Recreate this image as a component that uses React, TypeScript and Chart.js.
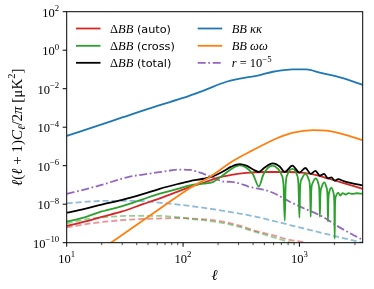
import React, { useEffect, useRef } from 'react';
import { Chart, registerables } from 'chart.js';

Chart.register(...registerables);

// ---------- data ----------
const ellAuto = [10, 14, 20, 30, 45, 63, 90, 115, 150, 200, 260, 350, 500, 800, 1100, 1400, 1800, 2400, 3500];
const bbAuto = [7.4e-10, 1.2e-9, 2.2e-9, 4.2e-9, 1e-8, 2e-8, 4.5e-8, 7.9e-8, 1.3e-7, 2.4e-7, 3.3e-7, 4.2e-7, 4.7e-7, 4.7e-7, 4.2e-7, 3.2e-7, 2.1e-7, 1.26e-7, 6.3e-8];

const ellCross = [10, 14, 20, 30, 45, 63, 90, 115, 150, 180, 220, 260, 307, 350, 400, 448, 490, 540, 590, 650, 700, 730, 748, 762, 790, 870, 950, 982, 1000, 1015, 1045, 1125, 1200, 1235, 1250, 1265, 1300, 1375, 1450, 1485, 1500, 1515, 1555, 1630, 1705, 1745, 1760, 1775, 1810, 1885, 1960, 1995, 2010, 2025, 2070, 2150, 2250, 2350, 2500, 2650, 2850, 3100, 3500];
const bbCross = [1.23e-9, 2.0e-9, 4.2e-9, 7.9e-9, 1.8e-8, 3.5e-8, 6.3e-8, 9.5e-8, 1.17e-7, 1.4e-7, 3.2e-7, 6.8e-7, 1.05e-6, 7.9e-7, 3.5e-7, 8.3e-8, 3.5e-7, 7.9e-7, 1.0e-6, 7.1e-7, 3.5e-7, 1e-7, 1.4e-9, 1e-7, 3.5e-7, 6.8e-7, 3.5e-7, 1e-7, 2e-9, 8e-8, 2e-7, 3.8e-7, 2e-7, 6.3e-8, 2.2e-9, 5e-8, 1.26e-7, 2.2e-7, 1.26e-7, 4e-8, 2.2e-9, 3.2e-8, 7.9e-8, 1.35e-7, 7.9e-8, 2.5e-8, 1.26e-9, 1.6e-8, 4.5e-8, 7e-8, 4e-8, 1.26e-8, 1.6e-10, 1e-8, 2.8e-8, 4e-8, 2.8e-8, 3.8e-8, 3.2e-8, 3.8e-8, 3.4e-8, 3.7e-8, 3.5e-8];

const ellTotal = [10, 14, 20, 30, 45, 63, 90, 115, 150, 180, 220, 260, 307, 350, 400, 448, 500, 590, 680, 748, 870, 1000, 1125, 1250, 1375, 1500, 1630, 1760, 1885, 2010, 2150, 2400, 2800, 3500];
const bbTotal = [3.6e-9, 5.6e-9, 9.5e-9, 1.66e-8, 3.3e-8, 6.3e-8, 1.12e-7, 1.6e-7, 2.1e-7, 2.8e-7, 5e-7, 8.9e-7, 1.2e-6, 1e-6, 6.3e-7, 4.7e-7, 7.9e-7, 1.32e-6, 8.9e-7, 4.7e-7, 1e-6, 4.4e-7, 7.6e-7, 3.8e-7, 5.4e-7, 3e-7, 3.8e-7, 2.2e-7, 2.5e-7, 1.66e-7, 2e-7, 1.6e-7, 1.26e-7, 9.5e-8];

const ellKK = [10, 20, 30, 63, 100, 150, 236, 300, 457, 592, 700, 883, 1150, 1496, 2362, 3500];
const bbKK = [3.5e-5, 1.4e-4, 3.2e-4, 1.4e-3, 3.3e-3, 8e-3, 2.3e-2, 3.2e-2, 5.1e-2, 7.6e-2, 8.9e-2, 1.02e-1, 1.0e-1, 6.8e-2, 3.5e-2, 1.6e-2];

const ellWW = [20, 24, 40, 60, 80, 115, 171, 270, 400, 500, 635, 883, 1310, 1706, 2362, 3500];
const bbWW = [4.6e-11, 1e-10, 8.5e-10, 4.7e-9, 1.6e-8, 7e-8, 2.7e-7, 1.8e-6, 6.5e-6, 1.3e-5, 2.6e-5, 5.2e-5, 7.1e-5, 6.6e-5, 4.4e-5, 2.1e-5];

const ellR = [10, 15, 20, 33, 50, 63, 80, 93, 115, 150, 190, 221, 260, 307, 360, 427, 533, 650, 826, 1100, 1596, 2050, 2700, 3500];
const bbR = [3.4e-8, 6.3e-8, 1e-7, 2.5e-7, 3.8e-7, 4.6e-7, 5.8e-7, 6.3e-7, 6e-7, 3.8e-7, 2.1e-7, 1.5e-7, 1.45e-7, 1.2e-7, 8.5e-8, 6.6e-8, 5e-8, 3e-8, 1.35e-8, 6e-9, 2.2e-9, 8.3e-10, 3.2e-10, 1.4e-10];

const ellDashKK = [10, 15, 23, 35, 45, 70, 115, 200, 427, 826, 1596, 3500];
const bbDashKK = [1.1e-8, 1.35e-8, 1.5e-8, 1.5e-8, 1.45e-8, 1.12e-8, 8.1e-9, 5e-9, 2.2e-9, 8.3e-10, 3.1e-10, 1e-10];

const ellDashAuto = [10, 15, 23, 40, 60, 90, 115, 160, 221, 300, 427, 600, 826, 1100, 1400];
const bbDashAuto = [6.3e-10, 9.5e-10, 1.3e-9, 1.66e-9, 1.8e-9, 1.9e-9, 1.8e-9, 1.6e-9, 1.23e-9, 8e-10, 4e-10, 2.4e-10, 1.4e-10, 1.05e-10, 7e-11];

const ellDashCross = [10, 15, 23, 40, 60, 90, 115, 160, 221, 300, 427, 600, 826, 1100];
const bbDashCross = [1e-9, 1.66e-9, 2.2e-9, 2.5e-9, 2.5e-9, 2.1e-9, 1.75e-9, 1.4e-9, 1.05e-9, 6.8e-10, 3.5e-10, 1.9e-10, 1.05e-10, 6.3e-11];

const xMajorTicks = [10, 100, 1000];
const xMajorExp = ['1', '2', '3'];
const xMinorTicks = [20, 30, 40, 50, 60, 70, 80, 90, 200, 300, 400, 500, 600, 700, 800, 900, 2000, 3000];
const yMajorTicks = [1e2, 1e0, 1e-2, 1e-4, 1e-6, 1e-8, 1e-10];
const yMajorExp = ['2', '0', '−2', '−4', '−6', '−8', '−10'];

// ---------- styling helpers ----------
const SERIF = '"Liberation Serif", "DejaVu Serif", serif';
const SANS = '"DejaVu Sans", sans-serif';

type Seg = [string, string];

function segFont(kind: string, size: number) {
  switch (kind) {
    case 'i': return { f: `italic ${size}px ${SERIF}`, dy: 0 };
    case 's': return { f: `${(size * 0.9).toFixed(2)}px ${SANS}`, dy: 0 };
    case 'sup': return { f: `${(size * 0.7).toFixed(2)}px ${SERIF}`, dy: -size * 0.42 };
    case 'sub': return { f: `italic ${(size * 0.7).toFixed(2)}px ${SERIF}`, dy: size * 0.22 };
    default: return { f: `${size}px ${SERIF}`, dy: 0 };
  }
}
function measureSegs(ctx: CanvasRenderingContext2D, segs: Seg[], size: number) {
  let w = 0;
  for (const [t, k] of segs) {
    ctx.font = segFont(k, size).f;
    w += ctx.measureText(t).width;
  }
  return w;
}
function drawSegs(ctx: CanvasRenderingContext2D, segs: Seg[], x: number, y: number, size: number) {
  let cx = x;
  ctx.textAlign = 'left';
  ctx.textBaseline = 'alphabetic';
  for (const [t, k] of segs) {
    const { f, dy } = segFont(k, size);
    ctx.font = f;
    ctx.fillText(t, cx, y + dy);
    cx += ctx.measureText(t).width;
  }
  return cx - x;
}

const legendItems: { ds: number; col: number; row: number; segs: Seg[] }[] = [
  { ds: 0, col: 0, row: 0, segs: [['Δ', 'n'], ['BB', 'i'], [' (auto)', 's']] },
  { ds: 1, col: 0, row: 1, segs: [['Δ', 'n'], ['BB', 'i'], [' (cross)', 's']] },
  { ds: 2, col: 0, row: 2, segs: [['Δ', 'n'], ['BB', 'i'], [' (total)', 's']] },
  { ds: 3, col: 1, row: 0, segs: [['BB κκ', 'i']] },
  { ds: 4, col: 1, row: 1, segs: [['BB ωω', 'i']] },
  { ds: 5, col: 1, row: 2, segs: [['r', 'i'], [' = 10', 'n'], ['−5', 'sup']] },
];

const decorPlugin = {
  id: 'decor',
  afterDraw(chart: any) {
    const { ctx, chartArea: a, scales } = chart;
    const xs = scales.x;
    const ys = scales.y;
    ctx.save();
    ctx.fillStyle = '#000';
    ctx.strokeStyle = '#000';
    ctx.lineWidth = 1;
    ctx.setLineDash([]);
    ctx.strokeRect(a.left, a.top, a.right - a.left, a.bottom - a.top);

    const tick = (x1: number, y1: number, x2: number, y2: number) => {
      ctx.beginPath();
      ctx.moveTo(x1, y1);
      ctx.lineTo(x2, y2);
      ctx.stroke();
    };
    xMajorTicks.forEach((v) => { const p = xs.getPixelForValue(v); tick(p, a.bottom, p, a.bottom + 4); });
    ctx.lineWidth = 0.7;
    xMinorTicks.forEach((v) => { const p = xs.getPixelForValue(v); tick(p, a.bottom, p, a.bottom + 2.5); });
    ctx.lineWidth = 1;
    yMajorTicks.forEach((v) => { const p = ys.getPixelForValue(v); tick(a.left - 4, p, a.left, p); });

    const fs = 12.5;
    // x tick labels
    xMajorTicks.forEach((v, i) => {
      const segs: Seg[] = [['10', 'n'], [xMajorExp[i], 'sup']];
      const w = measureSegs(ctx, segs, fs);
      const p = xs.getPixelForValue(v);
      drawSegs(ctx, segs, p - w / 2, a.bottom + 19.8, fs);
    });
    // y tick labels
    yMajorTicks.forEach((v, i) => {
      const segs: Seg[] = [['10', 'n'], [yMajorExp[i], 'sup']];
      const w = measureSegs(ctx, segs, fs);
      const p = ys.getPixelForValue(v);
      drawSegs(ctx, segs, a.left - 7.5 - w, p + 4.8, fs);
    });

    // x axis title
    const xt: Seg[] = [['ℓ', 'i']];
    const xw = measureSegs(ctx, xt, 15);
    drawSegs(ctx, xt, (a.left + a.right) / 2 - xw / 2, a.bottom + 37.5, 15);

    // y axis title (rotated)
    const yt: Seg[] = [['ℓ', 'i'], ['(', 'n'], ['ℓ', 'i'], [' + 1)', 'n'], ['C', 'i'], ['ℓ', 'sub'], ['/2', 'n'], ['π', 'i'], [' [μK', 'n'], ['2', 'sup'], [']', 'n']];
    const yw = measureSegs(ctx, yt, 15);
    ctx.save();
    ctx.translate(21.5, (a.top + a.bottom) / 2);
    ctx.rotate(-Math.PI / 2);
    drawSegs(ctx, yt, -yw / 2, 0, 15);
    ctx.restore();

    // legend
    const colLine = [76, 197.7];
    const rowY = [28.5, 45.8, 62.8];
    legendItems.forEach((it) => {
      const ds = chart.data.datasets[it.ds];
      const y = rowY[it.row];
      const x0 = colLine[it.col];
      ctx.save();
      ctx.strokeStyle = ds.borderColor;
      ctx.lineWidth = ds.borderWidth;
      ctx.setLineDash(ds.borderDash || []);
      ctx.beginPath();
      ctx.moveTo(x0, y);
      ctx.lineTo(x0 + 24.5, y);
      ctx.stroke();
      ctx.restore();
      ctx.fillStyle = '#000';
      drawSegs(ctx, it.segs, x0 + 34, y + 4.2, 12.5);
    });
    ctx.restore();
  },
};

function pts(xs: number[], ys: number[]) {
  return xs.map((x, i) => ({ x, y: ys[i] }));
}

export default function App() {
  const ref = useRef<HTMLCanvasElement | null>(null);
  useEffect(() => {
    if (!ref.current) return;
    const lw = 1.8;
    const base = { pointRadius: 0, borderWidth: lw, fill: false, cubicInterpolationMode: 'monotone' as const };
    const chart = new Chart(ref.current, {
      type: 'line',
      data: {
        datasets: [
          { ...base, label: 'ΔBB (auto)', data: pts(ellAuto, bbAuto), borderColor: '#d62728', order: 4 },
          { ...base, label: 'ΔBB (cross)', data: pts(ellCross, bbCross), borderColor: '#2ca02c', order: 3 },
          { ...base, label: 'ΔBB (total)', data: pts(ellTotal, bbTotal), borderColor: '#000000', order: 2 },
          { ...base, label: 'BB κκ', data: pts(ellKK, bbKK), borderColor: '#1f77b4', order: 1 },
          { ...base, label: 'BB ωω', data: pts(ellWW, bbWW), borderColor: '#ff7f0e', order: 0 },
          { ...base, label: 'r = 10⁻⁵', data: pts(ellR, bbR), borderColor: '#9467bd', borderDash: [8, 2.6, 1.8, 2.6], order: 5 },
          { ...base, label: 'κκ noise', data: pts(ellDashKK, bbDashKK), borderColor: 'rgba(31,119,180,0.5)', borderDash: [6, 3], order: 6 },
          { ...base, label: 'auto noise', data: pts(ellDashAuto, bbDashAuto), borderColor: 'rgba(214,39,40,0.5)', borderDash: [6, 3], order: 8 },
          { ...base, label: 'cross noise', data: pts(ellDashCross, bbDashCross), borderColor: 'rgba(44,160,44,0.5)', borderDash: [6, 3], order: 7 },
        ],
      },
      options: {
        responsive: false,
        devicePixelRatio: 1,
        animation: false,
        parsing: true,
        layout: { padding: { left: 66.7, right: 11.3, top: 11.7, bottom: 46.3 } },
        scales: {
          x: { type: 'logarithmic', min: 10, max: 3500, display: false },
          y: { type: 'logarithmic', min: 1e-10, max: 1e2, display: false },
        },
        plugins: { legend: { display: false }, tooltip: { enabled: false } },
      },
      plugins: [decorPlugin],
    });
    return () => chart.destroy();
  }, []);
  return (
    <div style={{ position: 'absolute', left: 0, top: 0, width: 374, height: 289, background: '#fff' }}>
      <canvas ref={ref} width={374} height={289} style={{ display: 'block', width: 374, height: 289 }} />
    </div>
  );
}
